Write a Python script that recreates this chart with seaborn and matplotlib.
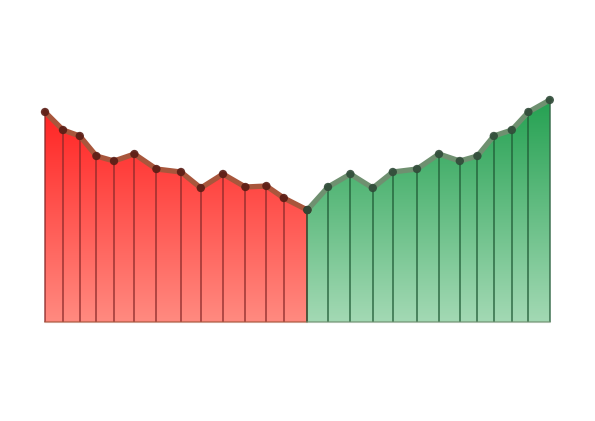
import numpy as np
import pandas as pd
import matplotlib
matplotlib.use("Agg")
import matplotlib.pyplot as plt
import seaborn as sns
from matplotlib.colors import LinearSegmentedColormap
from matplotlib.patches import Polygon

# ---- data ----
x_loss = [0, 9, 17.4, 25.7, 34.5, 44.7, 55.7, 68, 77.9, 89, 100.2, 110.7, 119.4, 131.2]
y_loss = [105, 96, 93, 83, 80.5, 84, 76.5, 75, 67, 74, 67.5, 68, 62, 56]
x_gain = [131.2, 141.5, 152.7, 163.9, 173.9, 186, 197, 207.4, 216.2, 224.4, 233.4, 241.7, 252.4]
y_gain = [56, 67.5, 74, 67, 75, 76.5, 84, 80.5, 83, 93, 96, 105, 111]
sides = ["loss", "gain"]

line_colors = {"loss": "#a8563c", "gain": "#6f9070"}
marker_colors = {"loss": "#5a1c14", "gain": "#2f4a38"}
stem_colors = {"loss": "#8a2a2a", "gain": "#1f5a35"}
grad = {"loss": ("#ff8a80", "#ff1f1f"), "gain": ("#a3d9b4", "#25a152")}

df = pd.concat([
    pd.DataFrame({"x": x_loss, "y": y_loss, "side": "loss"}),
    pd.DataFrame({"x": x_gain, "y": y_gain, "side": "gain"}),
], ignore_index=True)

sns.set_style("white")
fig = plt.figure(figsize=(5.95, 4.21), dpi=100)
ax = fig.add_axes([0, 0, 1, 1])
ax.set_xlim(-22.5, 275)
ax.set_ylim(-49.5, 161)
ax.axis("off")

ymax = max(max(y_loss), max(y_gain))
for side in sides:
    d = df[df.side == side]
    xs = d.x.to_numpy(); ys = d.y.to_numpy()
    verts = [(xs[0], 0)] + list(zip(xs, ys)) + [(xs[-1], 0)]
    poly = Polygon(verts, closed=True, facecolor="none", edgecolor="none")
    ax.add_patch(poly)
    cmap = LinearSegmentedColormap.from_list(side, list(grad[side]))
    g = np.linspace(0, 1, 256).reshape(-1, 1)
    im = ax.imshow(g, cmap=cmap, aspect="auto", origin="lower",
                   extent=[xs.min(), xs.max(), 0, ymax], zorder=1)
    im.set_clip_path(poly)
    ax.vlines(xs, 0, ys, color=stem_colors[side], lw=1.1, alpha=0.85, zorder=2)
    sns.lineplot(data=d, x="x", y="y", ax=ax, color=line_colors[side], lw=3.8,
                 zorder=3, legend=False, sort=False)
    sns.scatterplot(data=d, x="x", y="y", ax=ax, color=marker_colors[side], s=36,
                    edgecolor="none", alpha=0.9, zorder=4, legend=False)
    ax.plot([xs[0], xs[-1]], [0, 0], color=line_colors[side], lw=1.5, alpha=0.6, zorder=2)

ax.set_xlim(-22.5, 275)
ax.set_ylim(-49.5, 161)
ax.axis("off")
fig.savefig("out.png", dpi=100, facecolor="white")
